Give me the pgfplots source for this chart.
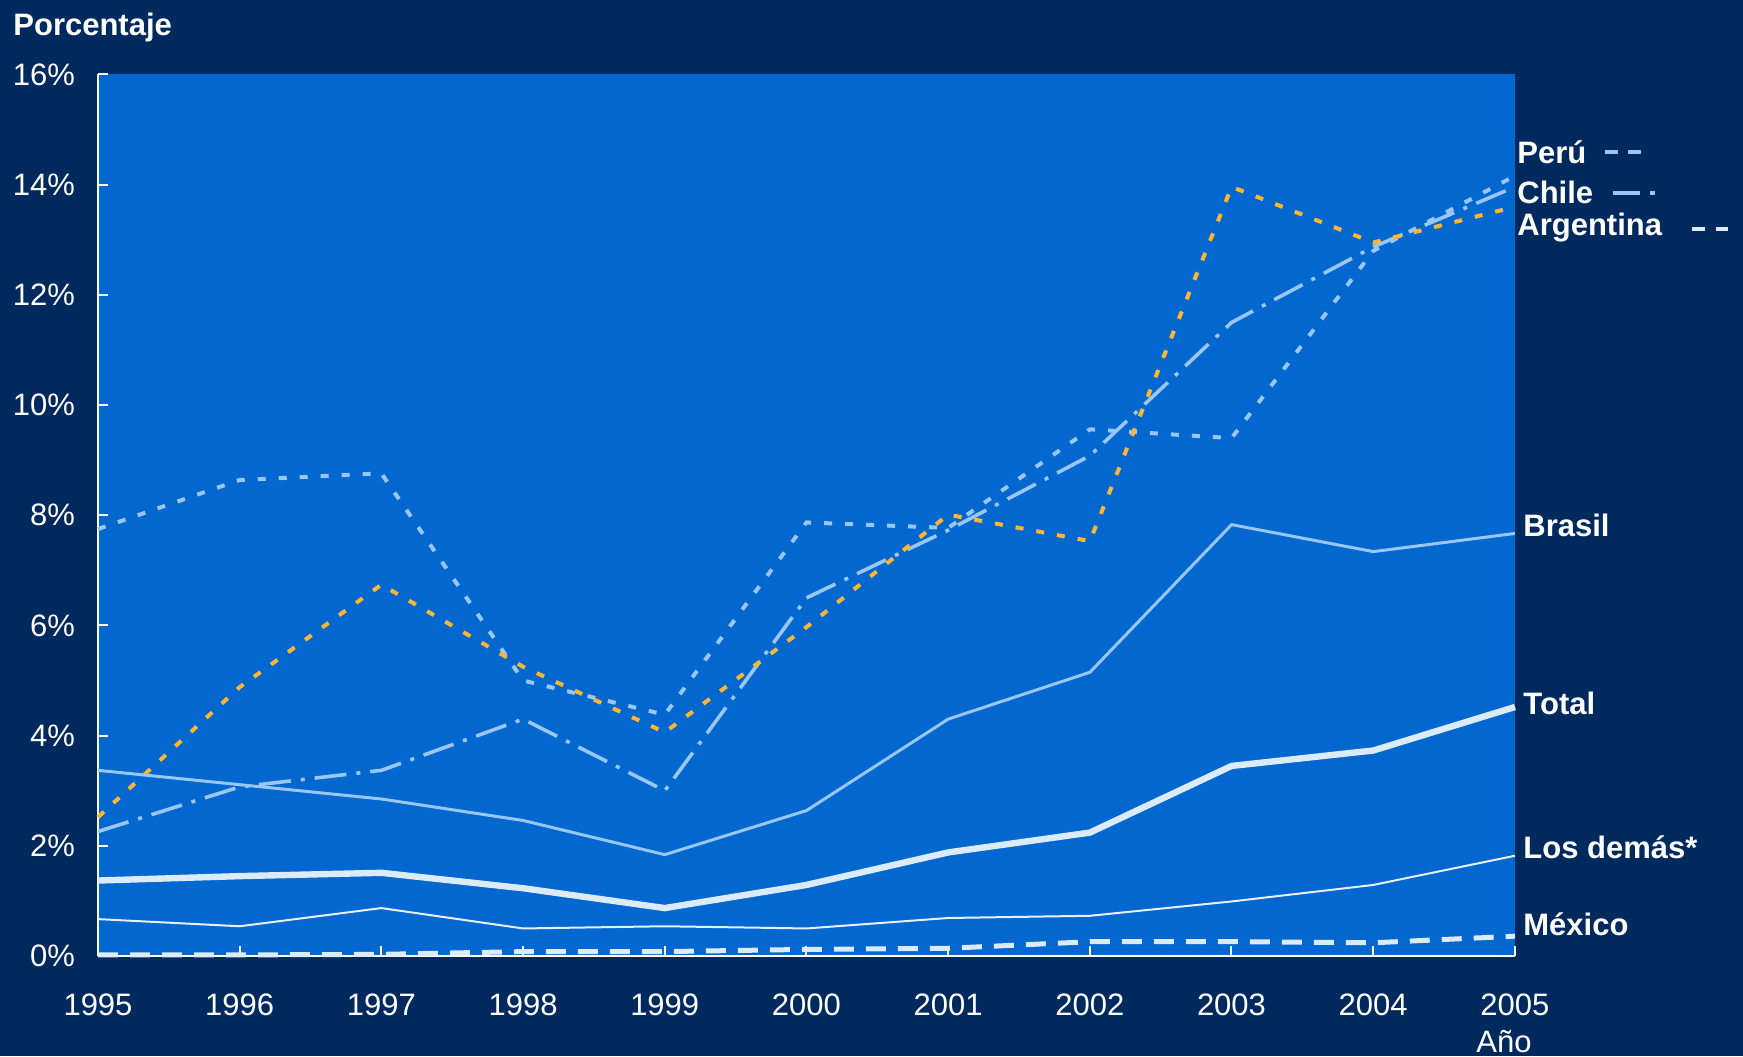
\documentclass[border=0pt]{standalone}
\usepackage{fontspec}
\setmainfont{Liberation Sans}
\usepackage{pgfplots}
\pgfplotsset{compat=1.18}

\definecolor{navy}{HTML}{00295E}
\definecolor{plotblue}{HTML}{0267CE}
\definecolor{lightblue}{HTML}{99C6F3}
\definecolor{paleblue}{HTML}{DCEBFA}
\definecolor{palewhite}{HTML}{E6F1FC}
\definecolor{orangeline}{HTML}{FFB732}

\newcommand{\labfont}{\fontsize{15.5}{18}\selectfont}

\begin{document}
\begin{tikzpicture}
\fill[navy] (-49pt,-50pt) rectangle (822.5pt,478pt);
\useasboundingbox (-49pt,-50pt) rectangle (822.5pt,478pt);
\begin{axis}[
    at={(0,0)}, anchor=south west,
    width=708.5pt, height=440.75pt, scale only axis,
    xmin=1995, xmax=2005, ymin=0, ymax=16,
    axis x line=bottom, axis y line=left,
    axis line style={white, line width=1.2pt, -},
    axis background/.style={fill=plotblue},
    xtick={1995,...,2005}, ytick={0,2,...,16},
    tick align=inside, major tick length=5pt,
    tick style={white, line width=1pt},
    yticklabel={\pgfmathprintnumber{\tick}\%},
    x tick label style={/pgf/number format/1000 sep={}, yshift=-15.5pt},
    y tick label style={xshift=-8pt},
    ticklabel style={font=\labfont, text=white},
    /pgf/number format/assume math mode=true,
    clip=false,
]
% Peru
\addplot[lightblue, line width=2pt, dash pattern=on 4pt off 6.5pt] coordinates {
  (1995,7.75) (1996,8.64) (1997,8.76) (1998,5.00) (1999,4.38) (2000,7.87)
  (2001,7.77) (2002,9.56) (2003,9.40) (2004,12.80) (2005,14.16) };
% Chile
\addplot[lightblue, line width=1.8pt, dash pattern=on 16pt off 5pt on 2pt off 5pt] coordinates {
  (1995,2.26) (1996,3.07) (1997,3.37) (1998,4.30) (1999,3.00) (2000,6.50)
  (2001,7.73) (2002,9.08) (2003,11.50) (2004,12.87) (2005,13.96) };
% Argentina
\addplot[orangeline, line width=2pt, dash pattern=on 4pt off 6.5pt] coordinates {
  (1995,2.52) (1996,4.88) (1997,6.74) (1998,5.25) (1999,4.06) (2000,5.97)
  (2001,8.01) (2002,7.53) (2003,13.96) (2004,12.95) (2005,13.60) };
% Brasil
\addplot[lightblue, line width=1.5pt] coordinates {
  (1995,3.37) (1996,3.11) (1997,2.85) (1998,2.46) (1999,1.84) (2000,2.64)
  (2001,4.30) (2002,5.15) (2003,7.83) (2004,7.34) (2005,7.67) };
% Total
\addplot[paleblue, line width=3.2pt] coordinates {
  (1995,1.37) (1996,1.45) (1997,1.51) (1998,1.23) (1999,0.87) (2000,1.29)
  (2001,1.88) (2002,2.24) (2003,3.45) (2004,3.73) (2005,4.52) };
% Los demas
\addplot[palewhite, line width=1pt] coordinates {
  (1995,0.67) (1996,0.54) (1997,0.87) (1998,0.50) (1999,0.54) (2000,0.50)
  (2001,0.69) (2002,0.73) (2003,0.99) (2004,1.29) (2005,1.82) };
% Mexico
\addplot[paleblue, line width=2.5pt, dash pattern=on 10pt off 6pt] coordinates {
  (1995,0.02) (1996,0.02) (1997,0.03) (1998,0.08) (1999,0.08) (2000,0.12)
  (2001,0.14) (2002,0.26) (2003,0.26) (2004,0.24) (2005,0.36) };

\begin{scope}[every node/.style={font=\labfont\bfseries, text=white, inner sep=0pt, anchor=mid west, yshift=-2.8pt}]
\node[xshift=1pt] at (axis cs:2005,14.59) {Perú};
\node[xshift=1pt] at (axis cs:2005,13.85) {Chile};
\node[xshift=1pt] at (axis cs:2005,13.27) {Argentina};
\node[xshift=4pt] at (axis cs:2005,7.81) {Brasil};
\node[xshift=4pt] at (axis cs:2005,4.58) {Total};
\node[xshift=4pt] at (axis cs:2005,1.96) {Los demás*};
\node[xshift=4pt] at (axis cs:2005,0.57) {México};
\node[xshift=-42.5pt, yshift=25pt] at (rel axis cs:0,1) {Porcentaje};
\end{scope}
\node[font=\labfont, text=white, inner sep=0pt, anchor=mid, xshift=-5.5pt, yshift=-45.8pt] at (rel axis cs:1,0) {Año};

\draw[lightblue, line width=2pt, dash pattern=on 6.5pt off 5pt]
  ([xshift=45pt]axis cs:2005,14.59) -- ([xshift=63pt]axis cs:2005,14.59);
\draw[lightblue, line width=2pt, dash pattern=on 13.5pt off 5pt on 2.5pt off 5pt]
  ([xshift=49pt]axis cs:2005,13.85) -- ([xshift=70.5pt]axis cs:2005,13.85);
\draw[paleblue, line width=2pt, dash pattern=on 6.5pt off 5.5pt]
  ([xshift=88.5pt]axis cs:2005,13.20) -- ([xshift=106.5pt]axis cs:2005,13.20);
\end{axis}
\end{tikzpicture}
\end{document}
